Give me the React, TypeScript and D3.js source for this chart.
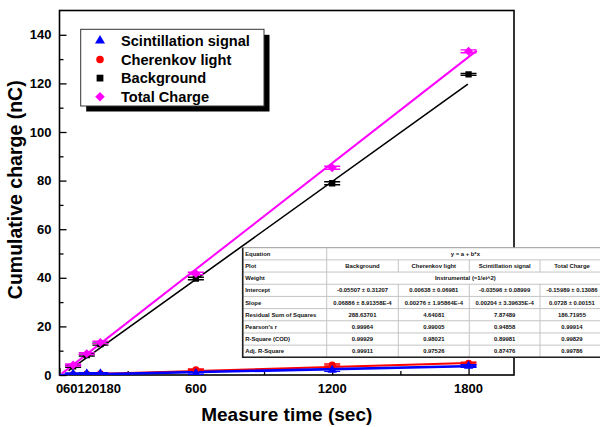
import React, { useRef, useEffect } from 'react';
import * as d3 from 'd3';

// measured points (time in sec, charge in nC)
const times = [60, 120, 180, 600, 1200, 1800];
const scintillation = [0.5, 0.6, 0.6, 0.7, 2.0, 3.7];
const cherenkov = [0.2, 0.4, 0.5, 2.2, 4.1, 4.8];
const background = [3.6, 8.2, 12.7, 39.7, 78.9, 123.7];
const totalCharge = [4.1, 8.8, 13.4, 41.8, 85.3, 133.2];
const scintErr = [0.3, 0.3, 0.3, 0.4, 0.5, 0.5];
const cherenkovErr = [0.2, 0.2, 0.2, 0.3, 0.4, 0.5];
const backgroundErr = [0.4, 0.4, 0.4, 0.5, 0.6, 0.4];
const totalErr = [0.4, 0.4, 0.5, 0.5, 0.6, 0.6];

const seriesNames = ['Scintillation signal', 'Cherenkov light', 'Background', 'Total Charge'];
const seriesColors = ['#0000ff', '#ff0000', '#000000', '#ff00ff'];

// linear fits as drawn (y = a + b*x)
const fitIntercept = [-0.036, 0.006, -0.9, -0.16];
const fitSlope = [0.00204, 0.00276, 0.0671, 0.0728];
const fitFrom = [0, 0, 40, 10];
const fitTo = [1834, 1834, 1797, 1836];
const fitWidth = [2.6, 2, 1.6, 2];

const xTickLabels = [0, 60, 120, 180, 600, 1200, 1800];
const xMajorTicks = [0, 600, 1200, 1800];
const xMinorTicks = [300, 900, 1500];
const yMajorTicks = [0, 20, 40, 60, 80, 100, 120, 140];
const yMinorTicks = [10, 30, 50, 70, 90, 110, 130];

// fit result table
const tableHeaders = ['Background', 'Cherenkov light', 'Scintillation signal', 'Total Charge'];
const rowNames = ['Equation', 'Plot', 'Weight', 'Intercept', 'Slope', 'Residual Sum of Squares',
  "Pearson's r", 'R-Square (COD)', 'Adj. R-Square'];
const equationText = 'y = a + b*x';
const weightText = 'Instrumental (=1/ei^2)';
const interceptVals = ['-0.05507 ± 0.31207', '0.00638 ± 0.06981', '-0.03596 ± 0.08999', '-0.15989 ± 0.13086'];
const slopeVals = ['0.06886 ± 8.91358E-4', '0.00276 ± 1.95864E-4', '0.00204 ± 3.39635E-4', '0.0728 ± 0.00151'];
const rssVals = ['288.63701', '4.64081', '7.87489', '186.71955'];
const pearsonVals = ['0.99964', '0.99005', '0.94858', '0.99914'];
const rSquareVals = ['0.99929', '0.98021', '0.89981', '0.99829'];
const adjRSquareVals = ['0.99911', '0.97526', '0.87476', '0.99786'];

const FONT = "'Liberation Sans', Arial, sans-serif";

const App = () => {
  const svgRef = useRef<SVGSVGElement>(null);

  useEffect(() => {
    const svg = d3.select(svgRef.current);
    svg.selectAll('*').remove();

    const width = 600;
    const height = 427;
    const plot = { left: 59.5, right: 514, top: 10.5, bottom: 375 };

    const x = d3.scaleLinear().domain([0, 2000]).range([plot.left, plot.right]);
    const y = d3.scaleLinear().domain([0, 150]).range([plot.bottom, plot.top]);

    svg.append('rect').attr('width', width).attr('height', height).attr('fill', '#fff');

    svg.append('defs').append('clipPath').attr('id', 'plotClip')
      .append('rect')
      .attr('x', plot.left).attr('y', plot.top)
      .attr('width', plot.right - plot.left).attr('height', plot.bottom - plot.top);

    // y axis ticks (pointing inward)
    const yAxis = svg.append('g')
      .attr('transform', `translate(${plot.left},0)`)
      .call(d3.axisLeft(y).tickValues(yMajorTicks).tickSize(-7).tickPadding(8));
    yAxis.select('.domain').remove();
    yAxis.selectAll('line').attr('stroke', '#000').attr('stroke-width', 1.3);
    yAxis.selectAll('text')
      .style('font-family', FONT).style('font-size', '13px').style('font-weight', 'bold').attr('fill', '#000');

    const yMinor = svg.append('g')
      .attr('transform', `translate(${plot.left},0)`)
      .call(d3.axisLeft(y).tickValues(yMinorTicks).tickSize(-4).tickFormat(() => ''));
    yMinor.select('.domain').remove();
    yMinor.selectAll('line').attr('stroke', '#000').attr('stroke-width', 1.3);

    // x axis ticks
    const xAxis = svg.append('g')
      .attr('transform', `translate(0,${plot.bottom})`)
      .call(d3.axisBottom(x).tickValues(xMajorTicks).tickSize(-7).tickFormat(() => ''));
    xAxis.select('.domain').remove();
    xAxis.selectAll('line').attr('stroke', '#000').attr('stroke-width', 1.3);

    const xMinor = svg.append('g')
      .attr('transform', `translate(0,${plot.bottom})`)
      .call(d3.axisBottom(x).tickValues(xMinorTicks).tickSize(-4).tickFormat(() => ''));
    xMinor.select('.domain').remove();
    xMinor.selectAll('line').attr('stroke', '#000').attr('stroke-width', 1.3);

    // x tick labels, packed side by side where they would collide
    const xLabels = svg.append('g')
      .selectAll('text')
      .data(xTickLabels)
      .enter()
      .append('text')
      .attr('y', 392.5)
      .attr('text-anchor', 'middle')
      .style('font-family', FONT).style('font-size', '13px').style('font-weight', 'bold')
      .text((d) => String(d));
    let prevRight = -Infinity;
    xLabels.each(function (d) {
      const w = (this as SVGTextElement).getComputedTextLength();
      let cx = x(d);
      if (cx - w / 2 < prevRight + 4) cx = prevRight + w / 2;
      prevRight = cx + w / 2;
      d3.select(this).attr('x', cx);
    });

    // frame
    svg.append('rect')
      .attr('x', plot.left).attr('y', plot.top)
      .attr('width', plot.right - plot.left).attr('height', plot.bottom - plot.top)
      .attr('fill', 'none').attr('stroke', '#000').attr('stroke-width', 1.6);

    // axis titles
    svg.append('text')
      .attr('transform', 'rotate(-90)')
      .attr('x', -(plot.top + plot.bottom) / 2 + 3)
      .attr('y', 21.5)
      .attr('text-anchor', 'middle')
      .style('font-family', FONT).style('font-size', '19.5px').style('font-weight', 'bold')
      .text('Cumulative charge (nC)');

    svg.append('text')
      .attr('x', (plot.left + plot.right) / 2)
      .attr('y', 421)
      .attr('text-anchor', 'middle')
      .style('font-family', FONT).style('font-size', '19px').style('font-weight', 'bold')
      .text('Measure time (sec)');

    const data = [scintillation, cherenkov, background, totalCharge];
    const errs = [scintErr, cherenkovErr, backgroundErr, totalErr];
    const symbols = [d3.symbolTriangle, d3.symbolCircle, d3.symbolSquare, d3.symbolSquare];
    const sizes = [38, 38, 40, 40];
    const rotations = [0, 0, 0, 45];

    const plotG = svg.append('g').attr('clip-path', 'url(#plotClip)');

    // fit lines
    [1, 0, 2, 3].forEach((i) => {
      const pts: [number, number][] = [fitFrom[i], fitTo[i]].map((t) => [t, fitIntercept[i] + fitSlope[i] * t]);
      plotG.append('path')
        .datum(pts)
        .attr('fill', 'none')
        .attr('stroke', seriesColors[i])
        .attr('stroke-width', fitWidth[i])
        .attr('d', d3.line().x((d) => x(d[0])).y((d) => y(d[1])));
    });

    // points with error bars
    [1, 0, 2, 3].forEach((i) => {
      const g = plotG.append('g');
      const pts = times.map((t, k) => ({ t, v: data[i][k], e: errs[i][k] }));
      const cap = 8;
      g.selectAll('path.err')
        .data(pts)
        .enter()
        .append('path')
        .attr('class', 'err')
        .attr('fill', 'none')
        .attr('stroke', seriesColors[i])
        .attr('stroke-width', 1.4)
        .attr('d', (d) => {
          const cx = x(d.t);
          const y1 = y(d.v + d.e);
          const y2 = y(d.v - d.e);
          return `M${cx},${y1}V${y2}M${cx - cap},${y1}H${cx + cap}M${cx - cap},${y2}H${cx + cap}`;
        });
      g.selectAll('path.mk')
        .data(pts)
        .enter()
        .append('path')
        .attr('class', 'mk')
        .attr('fill', seriesColors[i])
        .attr('transform', (d) => `translate(${x(d.t)},${y(d.v)}) rotate(${rotations[i]})`)
        .attr('d', d3.symbol().type(symbols[i]).size(sizes[i])());
    });

    // legend
    const lg = { x: 80.7, y: 29.3, w: 183.3, h: 76.7 };
    svg.append('rect')
      .attr('x', lg.x + 5.5).attr('y', lg.y + 5.5).attr('width', lg.w).attr('height', lg.h)
      .attr('fill', '#000');
    svg.append('rect')
      .attr('x', lg.x).attr('y', lg.y).attr('width', lg.w).attr('height', lg.h)
      .attr('fill', '#fff').attr('stroke', '#333').attr('stroke-width', 1);
    seriesNames.forEach((name, i) => {
      const cy = lg.y + 11.4 + i * 18.7;
      svg.append('path')
        .attr('fill', seriesColors[i])
        .attr('transform', `translate(100,${cy}) rotate(${rotations[i]})`)
        .attr('d', d3.symbol().type(symbols[i]).size(sizes[i] + 6)());
      svg.append('text')
        .attr('x', 121)
        .attr('y', cy)
        .attr('dy', '0.36em')
        .style('font-family', FONT).style('font-size', '14.6px').style('font-weight', 'bold')
        .text(name);
    });

    // fit table
    const tb = { left: 242.7, top: 247.7, rowH: 12.18 };
    const colEdges = [242.7, 326.7, 398.3, 469.3, 540, 604];
    const tableBottom = tb.top + rowNames.length * tb.rowH;
    const tg = svg.append('g');
    tg.append('rect')
      .attr('x', tb.left).attr('y', tb.top)
      .attr('width', colEdges[5] - tb.left).attr('height', tableBottom - tb.top)
      .attr('fill', '#fff').attr('stroke', '#999').attr('stroke-width', 1);
    rowNames.forEach((_, r) => {
      if (r === 0) return;
      tg.append('line')
        .attr('x1', tb.left).attr('x2', colEdges[5])
        .attr('y1', tb.top + r * tb.rowH).attr('y2', tb.top + r * tb.rowH)
        .attr('stroke', '#c4c4c4').attr('stroke-width', 1);
    });
    rowNames.forEach((_, r) => {
      const merged = r === 0 || r === 2;
      const edges = merged ? [colEdges[1]] : colEdges.slice(1, 5);
      edges.forEach((cx) => {
        tg.append('line')
          .attr('x1', cx).attr('x2', cx)
          .attr('y1', tb.top + r * tb.rowH).attr('y2', tb.top + (r + 1) * tb.rowH)
          .attr('stroke', '#c4c4c4').attr('stroke-width', 1);
      });
    });
    // dark left and bottom edges
    tg.append('path')
      .attr('d', `M${tb.left},${tb.top}V${tableBottom}H${colEdges[5]}`)
      .attr('fill', 'none').attr('stroke', '#222').attr('stroke-width', 1.6);

    const cellText = (tx: number, ty: number, s: string, anchor: string) => {
      tg.append('text')
        .attr('x', tx).attr('y', ty).attr('dy', '0.35em')
        .attr('text-anchor', anchor)
        .style('font-family', FONT).style('font-size', '5.9px').style('font-weight', 'bold')
        .attr('fill', '#111')
        .text(s);
    };
    rowNames.forEach((name, r) => cellText(tb.left + 2.5, tb.top + (r + 0.5) * tb.rowH, name, 'start'));
    const mid = (colEdges[1] + colEdges[5]) / 2;
    cellText(mid, tb.top + 0.5 * tb.rowH, equationText, 'middle');
    cellText(mid, tb.top + 2.5 * tb.rowH, weightText, 'middle');
    const rowsData = [tableHeaders, null, interceptVals, slopeVals, rssVals, pearsonVals, rSquareVals, adjRSquareVals];
    rowsData.forEach((vals, k) => {
      if (!vals) return;
      const r = k + 1;
      vals.forEach((s, c) => {
        cellText((colEdges[c + 1] + colEdges[c + 2]) / 2, tb.top + (r + 0.5) * tb.rowH, s, 'middle');
      });
    });
  }, []);

  return (
    <svg
      ref={svgRef}
      width={600}
      height={427}
      style={{ position: 'absolute', left: 0, top: 0 }}
    ></svg>
  );
};

export default App;
